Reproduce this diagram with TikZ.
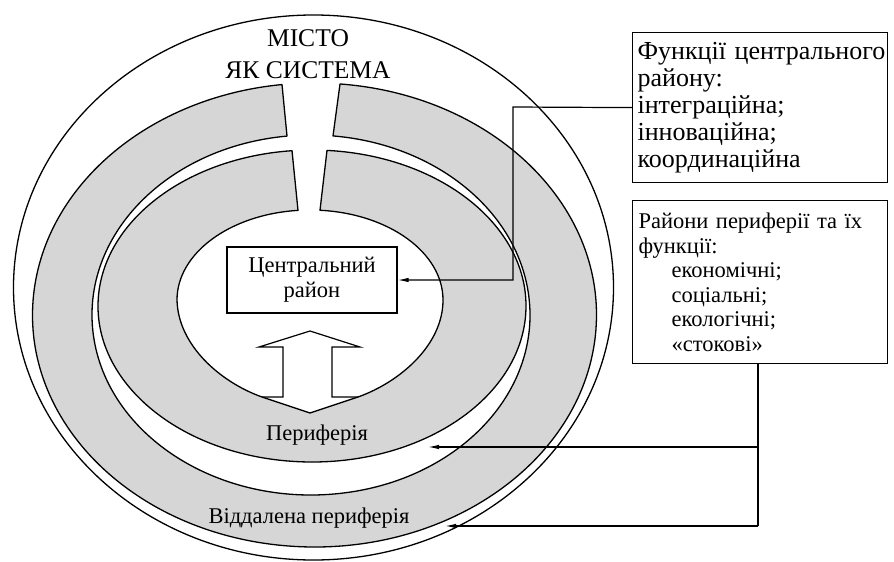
\documentclass[tikz,border=0pt]{standalone}
\usepackage{fontspec}
\setmainfont{Liberation Serif}
\usetikzlibrary{arrows.meta,calc}
\definecolor{ringgray}{RGB}{214,214,214}
\begin{document}
\begin{tikzpicture}[x=1pt,y=1pt,
  ringfill/.style={fill=ringgray,draw=black,line width=1.3pt,line join=round},
  outline/.style={draw=black,line width=1.3pt},
  boxstyle/.style={draw=black,line width=1.2pt,fill=white},
  conn/.style={draw=black,line width=1.2pt},
  tip/.style={-{Latex[length=11pt,width=4.5pt]}},
  lbl/.style={font=\fontsize{22.5}{26}\selectfont,inner sep=0pt}
]
\useasboundingbox (0,0) rectangle (894,-562);

% city outline
\draw[outline] (313.5,-287.5) ellipse[x radius=300, y radius=272.5];

% outer ring (remote periphery) with gap at top
\path[ringfill] (314.5,-315) ++(84.81:282 and 232)
  arc[start angle=84.81, end angle=-263.38, x radius=282, y radius=232]
  -- ($(311,-315)+(96.29:219 and 180)$)
  arc[start angle=96.29, end angle=444.23, x radius=219, y radius=180]
  -- cycle;

% inner ring (periphery) with gap at top, and central hole with pointed bottom
\path[ringfill] (312,-306) ++(85.98:214 and 156)
  arc[start angle=85.98, end angle=-264.64, x radius=214, y radius=156]
  -- ($(310,-300)+(95.18:133 and 90)$)
  arc[start angle=95.18, end angle=180, x radius=133, y radius=90]
  .. controls (178,-345) and (220,-382) .. (262,-397)
  -- (310,-413) -- (358,-397)
  .. controls (400,-382) and (443,-345) .. (443,-300)
  arc[start angle=0, end angle=85.69, x radius=133, y radius=90]
  -- cycle;

% hollow up arrow in the centre
\draw[outline,line width=1.2pt,line join=miter] (262,-397) -- (283,-397) -- (283,-347) -- (259,-347)
  -- (310,-331) -- (360,-347) -- (332,-347) -- (332,-397) -- (358,-397);

% titles and labels
\node[lbl,align=center,font=\fontsize{25.5}{32}\selectfont] (title) at (308,-54) {МІСТО\\ЯК СИСТЕМА};
\node[lbl] (per) at (317,-435) {Периферія};
\node[lbl] (rem) at (309,-518) {Віддалена периферія};

% central district box
\node[boxstyle,lbl,align=center,minimum width=170pt,minimum height=66pt,font=\fontsize{22.5}{25}\selectfont]
  (cbox) at (312,-280) {Центральний\\район};

% function boxes
\node[boxstyle,anchor=north west,text width=245pt,inner xsep=5pt,inner ysep=0pt,
  minimum height=150pt,align=left,font=\fontsize{26}{27}\selectfont]
  (box1) at (632,-32) {\mbox{Функції центрального}\\\mbox{району:}\\\mbox{інтеграційна;}\\\mbox{інноваційна;}\\\mbox{координаційна}};
\node[boxstyle,anchor=north west,text width=243pt,inner xsep=6pt,inner ysep=0pt,
  minimum height=163pt,align=left,font=\fontsize{22.5}{24.5}\selectfont]
  (box2) at (632,-200) {Райони периферії та їх\\функції:\\
  \hspace*{33pt}економічні;\\\hspace*{33pt}соціальні;\\\hspace*{33pt}екологічні;\\\hspace*{33pt}«стокові»};

% connectors
\coordinate (j1) at (513,-107);
\draw[conn,tip] (box1.west) -- (j1) |- (cbox.east);

\coordinate (k1) at (758,-447);
\coordinate (k2) at (758,-526);
\coordinate (t1) at (428,-447);
\coordinate (t2) at (445,-526);
\draw[conn] (box2.south -| k1) -- (k2);
\draw[conn,tip] (k1) -- (t1);
\draw[conn,tip] (k2) -- (t2);
\end{tikzpicture}
\end{document}
